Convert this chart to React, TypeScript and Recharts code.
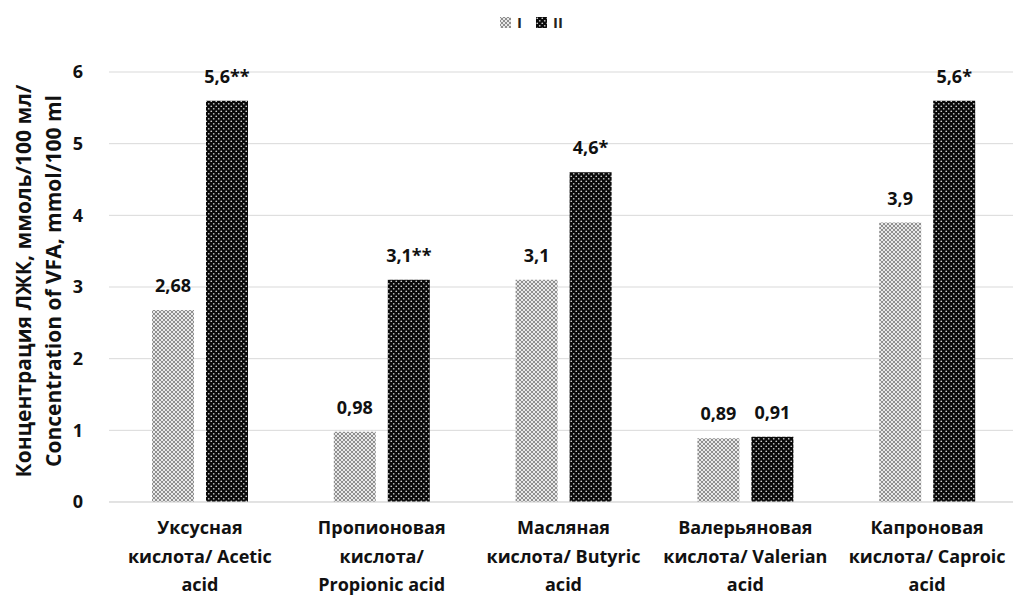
import React from 'react'
import { BarChart, Bar, XAxis, YAxis, CartesianGrid, LabelList } from 'recharts'

const categories = [
  ['Уксусная', 'кислота/ Acetic', 'acid'],
  ['Пропионовая', 'кислота/', 'Propionic acid'],
  ['Масляная', 'кислота/ Butyric', 'acid'],
  ['Валерьяновая', 'кислота/ Valerian', 'acid'],
  ['Капроновая', 'кислота/ Caproic', 'acid'],
]
const seriesI = [2.68, 0.98, 3.1, 0.89, 3.9]
const seriesII = [5.6, 3.1, 4.6, 0.91, 5.6]
const labelsI = ['2,68', '0,98', '3,1', '0,89', '3,9']
const labelsII = ['5,6**', '3,1**', '4,6*', '0,91', '5,6*']
const yTicks = [0, 1, 2, 3, 4, 5, 6]

const data = categories.map((c, i) => ({
  name: c.join('|'),
  I: seriesI[i],
  II: seriesII[i],
  labI: labelsI[i],
  labII: labelsII[i],
}))

const font = '"Open Sans", "Noto Sans", sans-serif'

const CategoryTick = (props: any) => {
  const { x, y, payload } = props
  const lines = String(payload.value).split('|')
  return (
    <g transform={`translate(${x},${y})`}>
      {lines.map((l, i) => (
        <text
          key={i}
          x={0}
          y={24 + i * 28.5}
          textAnchor="middle"
          fill="#111"
          fontSize={18}
          fontWeight={700}
          fontFamily={font}
        >
          {l}
        </text>
      ))}
    </g>
  )
}

const Legend = () => (
  <div
    style={{
      position: 'absolute',
      top: 13,
      left: 500,
      display: 'flex',
      alignItems: 'center',
      fontFamily: font,
      fontSize: 15,
      fontWeight: 700,
      color: '#222',
      lineHeight: '18px',
    }}
  >
    <svg width={11} height={11} style={{ marginRight: 6 }}>
      <rect width={11} height={11} fill="url(#patI)" />
    </svg>
    <span style={{ marginRight: 14 }}>I</span>
    <svg width={11} height={11} style={{ marginRight: 6 }}>
      <rect width={11} height={11} fill="url(#patII)" />
    </svg>
    <span>II</span>
  </div>
)

export default function App() {
  return (
    <div style={{ position: 'absolute', left: 0, top: 0, width: 1013, height: 598, overflow: 'hidden', background: '#fff' }}>
      <svg width={0} height={0} style={{ position: 'absolute' }}>
        <defs>
          <pattern id="patI" width={4} height={4} patternUnits="userSpaceOnUse">
            <rect width={4} height={4} fill="#e8e8e8" />
            <path d="M0,0 L4,4 M4,0 L0,4" stroke="#858585" strokeWidth={0.9} />
          </pattern>
          <pattern id="patII" width={5} height={5} patternUnits="userSpaceOnUse">
            <rect width={5} height={5} fill="#0a0a0a" />
            <circle cx={1.25} cy={1.25} r={0.85} fill="#d0d0d0" />
            <circle cx={3.75} cy={3.75} r={0.85} fill="#d0d0d0" />
          </pattern>
        </defs>
      </svg>
      <Legend />
      <BarChart
        width={1018}
        height={598}
        data={data}
        margin={{ top: 72, right: 0, bottom: 0, left: 24 }}
        barSize={42}
        barGap={12}
      >
        <CartesianGrid vertical={false} stroke="#d9d9d9" />
        <XAxis
          dataKey="name"
          tick={<CategoryTick />}
          tickLine={false}
          axisLine={{ stroke: '#d9d9d9' }}
          height={96}
          interval={0}
        />
        <YAxis
          domain={[0, 6]}
          ticks={yTicks}
          axisLine={false}
          tickLine={false}
          width={85}
          tick={{ fill: '#111', fontSize: 18, fontWeight: 700, fontFamily: font }}
          tickMargin={20}
          label={({ viewBox }: any) => {
            const cy = viewBox.y + viewBox.height / 2 - 6
            return (
              <g>
                <text
                  transform={`translate(31,${cy}) rotate(-90)`}
                  textAnchor="middle"
                  fontSize={21}
                  fontWeight={700}
                  fill="#111"
                  fontFamily={font}
                >
                  Концентрация ЛЖК, ммоль/100 мл/
                </text>
                <text
                  transform={`translate(61,${cy}) rotate(-90)`}
                  textAnchor="middle"
                  fontSize={21}
                  fontWeight={700}
                  fill="#111"
                  fontFamily={font}
                >
                  Concentration of VFA, mmol/100 ml
                </text>
              </g>
            )
          }}
        />
        <Bar dataKey="I" fill="url(#patI)" isAnimationActive={false}>
          <LabelList dataKey="labI" position="top" offset={18} fill="#111" fontSize={18} fontWeight={700} fontFamily={font} />
        </Bar>
        <Bar dataKey="II" fill="url(#patII)" isAnimationActive={false}>
          <LabelList dataKey="labII" position="top" offset={18} fill="#111" fontSize={18} fontWeight={700} fontFamily={font} />
        </Bar>
      </BarChart>
    </div>
  )
}
